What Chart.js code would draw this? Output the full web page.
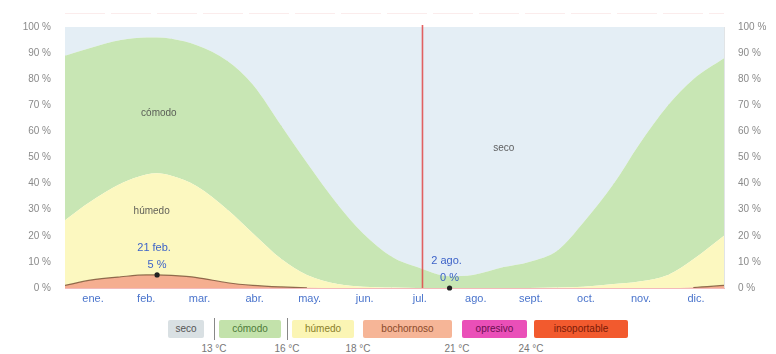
<!DOCTYPE html>
<html lang="es">
<head>
<meta charset="utf-8">
<script src="https://cdn.jsdelivr.net/npm/chart.js@4/dist/chart.umd.min.js"></script>
<style>
  html, body { margin: 0; padding: 0; background: #fff; }
  body { width: 776px; height: 354px; position: relative; overflow: hidden;
         font-family: "Liberation Sans", Arial, sans-serif; }
  #wrap { position: absolute; left: 0; top: 0; width: 776px; height: 312px; }
  .lg { position: absolute; top: 320px; height: 18px; line-height: 18px; font-size: 10px;
        text-align: center; border-radius: 2px; }
  .tk { position: absolute; top: 343px; font-size: 10px; color: #777; width: 40px;
        margin-left: -20px; text-align: center; }
  .sep { position: absolute; top: 318px; width: 1px; height: 22px; background: #888; }
</style>
</head>
<body>
<div id="wrap"><canvas id="c"></canvas></div>

<div class="lg" style="left:168px;width:36px;background:#d9e0e3;color:#555;">seco</div>
<div class="sep" style="left:214px;"></div>
<div class="lg" style="left:219px;width:62px;background:#c3e2ab;color:#4e7a3a;">cómodo</div>
<div class="sep" style="left:287px;"></div>
<div class="lg" style="left:292px;width:62px;background:#fbf5b4;color:#8a7f2a;">húmedo</div>
<div class="lg" style="left:363px;width:89px;background:#f6b597;color:#8a4a2a;">bochornoso</div>
<div class="lg" style="left:462px;width:65px;background:#ea4fb8;color:#6a1050;">opresivo</div>
<div class="lg" style="left:534px;width:94px;background:#f25a2e;color:#7a1a08;">insoportable</div>

<div class="tk" style="left:214px;">13 °C</div>
<div class="tk" style="left:287px;">16 °C</div>
<div class="tk" style="left:358px;">18 °C</div>
<div class="tk" style="left:457px;">21 °C</div>
<div class="tk" style="left:531px;">24 °C</div>

<script>
// Day of year (Jan 1 = 0) for each sample
const days = [0, 14, 31, 45, 51, 59, 73, 90, 104, 120, 134, 151, 165, 181, 195, 213, 226, 243, 257, 273, 287, 304, 318, 334, 348, 365];

// Percentage of time in each humidity comfort level
const insoportable = [0, 0, 0, 0, 0, 0, 0, 0, 0, 0, 0, 0, 0, 0, 0, 0, 0, 0, 0, 0, 0, 0, 0, 0, 0, 0];
const opresivo     = [0, 0, 0, 0, 0, 0, 0, 0, 0, 0, 0, 0, 0, 0, 0, 0, 0, 0, 0, 0, 0, 0, 0, 0, 0, 0];
const bochornoso   = [1, 3, 4.3, 5, 5, 4.8, 4, 2, 1, 0.4, 0.1, 0, 0, 0, 0, 0, 0, 0, 0, 0, 0, 0, 0, 0, 0.2, 1];
const humedo       = [25, 30, 35.7, 38.5, 39, 38.2, 35, 28, 20, 10.6, 4.9, 1.5, 0.5, 0.2, 0, 0, 0, 0, 0, 0.2, 0.5, 1.5, 2.5, 5, 10.8, 19];
const comodo       = [63, 59, 55, 52.5, 52, 52.5, 54, 57, 57, 51, 43, 30.5, 20.5, 11.8, 8, 4.5, 5, 8, 10, 14.3, 24.5, 38.5, 52.5, 65, 69, 68];
const seco         = [11, 8, 5, 4, 4, 4.5, 7, 13, 22, 38, 52, 68, 79, 88, 92, 95.5, 95, 92, 90, 85.5, 75, 60, 45, 30, 20, 12];

// Month labels and boundaries
const monthLabels = ['ene.', 'feb.', 'mar.', 'abr.', 'may.', 'jun.', 'jul.', 'ago.', 'sept.', 'oct.', 'nov.', 'dic.'];
const monthStarts = [0, 31, 59, 90, 120, 151, 181, 212, 243, 273, 304, 334, 365];
const yTicks = [0, 10, 20, 30, 40, 50, 60, 70, 80, 90, 100];

// Highlighted extremes of the muggy share and today's marker
const maxMuggy = { day: 51, value: 5, label: '21 feb.' };
const minMuggy = { day: 213, value: 0, label: '2 ago.' };
const today = 198;

const monthMids = monthLabels.map((_, i) => (monthStarts[i] + monthStarts[i + 1]) / 2);
const pts = arr => arr.map((v, i) => ({ x: days[i], y: v }));
// muggy share = bochornoso + opresivo + insoportable
const muggy = bochornoso.map((v, i) => v + opresivo[i] + insoportable[i]);

const levels = [
  { label: 'insoportable', data: insoportable, bg: '#f25a2e' },
  { label: 'opresivo',     data: opresivo,     bg: '#ea4fb8' },
  { label: 'bochornoso',   data: bochornoso,   bg: '#f5ae90' },
  { label: 'húmedo',       data: humedo,       bg: '#fcf8c0' },
  { label: 'cómodo',       data: comodo,       bg: '#c8e6b4' },
  { label: 'seco',         data: seco,         bg: '#e4eef5' }
];

const datasets = levels.map((l, i) => ({
  label: l.label,
  data: pts(l.data),
  backgroundColor: l.bg,
  borderWidth: 0,
  fill: i === 0 ? 'origin' : '-1',
  pointRadius: 0,
  tension: 0.4,
  cubicInterpolationMode: 'monotone',
  yAxisID: 'y',
  order: 1
}));

// outline of the muggy share, drawn on top where it rises off the axis
datasets.push({
  label: 'muggy',
  data: pts(muggy),
  yAxisID: 'y2',
  fill: false,
  order: 0,
  borderWidth: 1.2,
  borderColor: 'rgba(110,70,40,0.75)',
  segment: {
    borderColor: ctx => (ctx.p0.parsed.y < 0.3 && ctx.p1.parsed.y < 0.3) ? 'rgba(0,0,0,0)' : 'rgba(110,70,40,0.75)'
  },
  pointRadius: 0,
  tension: 0.4,
  cubicInterpolationMode: 'monotone'
});

const FONT = { family: '"Liberation Sans", Arial, sans-serif', size: 10 };

const overlay = {
  id: 'overlay',
  afterDatasetsDraw(chart) {
    const { ctx, chartArea: a, scales: { x, y } } = chart;
    ctx.save();
    // faint dashed rule above the plot
    ctx.strokeStyle = 'rgba(235,170,170,0.22)';
    ctx.lineWidth = 1;
    ctx.setLineDash([40, 6]);
    ctx.beginPath(); ctx.moveTo(a.left, 13.5); ctx.lineTo(a.right, 13.5); ctx.stroke();
    ctx.setLineDash([]);

    // today marker
    const tx = x.getPixelForValue(today);
    ctx.strokeStyle = 'rgba(225,70,70,0.85)';
    ctx.lineWidth = 1.6;
    ctx.beginPath(); ctx.moveTo(tx, a.top - 2); ctx.lineTo(tx, a.bottom); ctx.stroke();

    // region names
    ctx.font = '10px ' + FONT.family;
    ctx.fillStyle = 'rgba(70,70,70,0.85)';
    ctx.textAlign = 'center'; ctx.textBaseline = 'middle';
    ctx.fillText('cómodo', x.getPixelForValue(52), y.getPixelForValue(67));
    ctx.fillText('húmedo', x.getPixelForValue(48), y.getPixelForValue(29.5));
    ctx.fillText('seco', x.getPixelForValue(243), y.getPixelForValue(53.5));

    // extremes
    [maxMuggy, minMuggy].forEach(m => {
      const px = x.getPixelForValue(m.day), py = y.getPixelForValue(m.value);
      ctx.fillStyle = '#222';
      ctx.beginPath(); ctx.arc(px, py, 2.6, 0, Math.PI * 2); ctx.fill();
      ctx.font = '11px ' + FONT.family;
      ctx.fillStyle = '#3d63c8';
      ctx.fillText(m.label, px - 3, py - 27);
      ctx.fillText(m.value + ' %', px, py - 10);
    });
    ctx.restore();
  }
};

new Chart(document.getElementById('c'), {
  type: 'line',
  data: { datasets },
  options: {
    responsive: true,
    maintainAspectRatio: false,
    animation: false,
    layout: { padding: { top: 27, left: 0, right: 0, bottom: 0 } },
    plugins: { legend: { display: false }, tooltip: { enabled: false } },
    scales: {
      x: {
        type: 'linear', min: 0, max: 365, z: 1,
        afterBuildTicks: ax => {
          ax.ticks = monthStarts.map(v => ({ value: v })).concat(monthMids.map(v => ({ value: v })));
        },
        afterFit: ax => { ax.height = 24; },
        ticks: {
          autoSkip: false, maxRotation: 0, padding: 4,
          color: '#4a74cc', font: { ...FONT, size: 11 },
          callback: v => { const i = monthMids.indexOf(v); return i >= 0 ? monthLabels[i] : ''; }
        },
        grid: {
          drawTicks: false,
          color: c => (c.tick && monthMids.indexOf(c.tick.value) >= 0) ? 'rgba(0,0,0,0)' : 'rgba(120,130,140,0.22)'
        },
        border: { display: true, color: 'rgba(235,140,140,0.6)' }
      },
      y: {
        stacked: true, min: 0, max: 100, position: 'left',
        afterBuildTicks: ax => { ax.ticks = yTicks.map(v => ({ value: v })); },
        afterFit: ax => { ax.width = 65; },
        ticks: { color: '#8a8a8a', font: FONT, padding: 6, callback: v => v + ' %' },
        grid: { display: false },
        border: { display: false }
      },
      y2: {
        min: 0, max: 100, position: 'right',
        afterBuildTicks: ax => { ax.ticks = yTicks.map(v => ({ value: v })); },
        afterFit: ax => { ax.width = 52; },
        ticks: { color: '#8a8a8a', font: FONT, padding: 6, callback: v => v + ' %' },
        grid: { display: false },
        border: { display: false }
      }
    }
  },
  plugins: [overlay]
});
</script>
</body>
</html>
